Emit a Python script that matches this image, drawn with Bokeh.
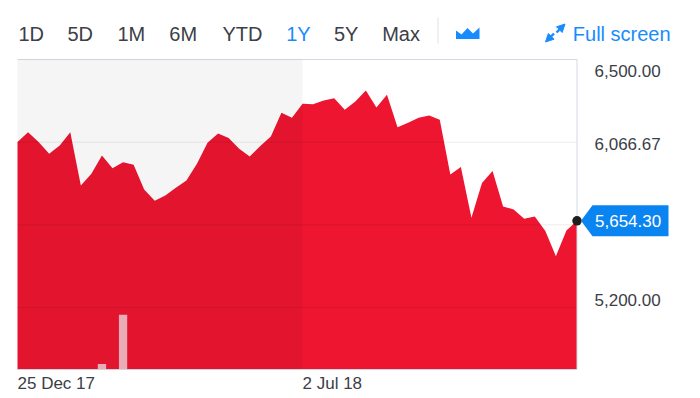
import pandas as pd
from datetime import datetime
from bokeh.plotting import figure
from bokeh.models import (Range1d, BoxAnnotation, Label, PolyAnnotation,
                          Arrow, NormalHead, ColumnDataSource)
from bokeh.embed import file_html
from bokeh.resources import INLINE

# ---------------- data ----------------
dates = list(pd.date_range("2017-12-25", periods=54, freq="7D"))
close = [6067, 6119, 6067, 6006, 6049, 6119, 5840, 5901, 5997, 5930,
         5962, 5948, 5819, 5760, 5787, 5828, 5866, 5953, 6064, 6112,
         6088, 6032, 5992, 6046, 6097, 6221, 6195, 6268, 6266, 6285,
         6297, 6236, 6280, 6338, 6249, 6315, 6145, 6168, 6195, 6207,
         6184, 5897, 5936, 5670, 5852, 5915, 5730, 5714, 5665, 5677,
         5601, 5469, 5604, 5654.30]
volume = [0, 0, 0, 0, 0, 0, 0, 0, 1.8, 0,
          17.7, 0, 0, 0, 0, 0, 0, 0, 0, 0,
          0, 0, 0, 0, 0, 0, 0, 0, 0, 0,
          0, 0, 0, 0, 0, 0, 0, 0, 0, 0,
          0, 0, 0, 0, 0, 0, 0, 0, 0, 0,
          0, 0, 0, 0]
y_ticks = [5200.00, 5633.33, 6066.67]
y_label_values = [6500.00, 6066.67, 5200.00]
y_label_texts = ["6,500.00", "6,066.67", "5,200.00"]
x_tick_dates = [datetime(2017, 12, 25), datetime(2018, 7, 2)]
x_tick_texts = ["25 Dec 17", "2 Jul 18"]
last_price_text = "5,654.30"
buttons = ["1D", "5D", "1M", "6M", "YTD", "1Y", "5Y", "Max"]
active_button = "1Y"

# ---------------- style / layout ----------------
RED = "#ED1530"
BLUE = "#188CFF"
TIP_BLUE = "#0A84F0"
TXT = "#3B4047"
BORDER = "#D3D8E2"
FONT = "Liberation Sans"
W, H = 700, 398
CH_L, CH_R, CH_T, CH_B = 17, 576.5, 59, 369   # chart box in pixels
Y_MIN, Y_MAX = 4875, 6500                      # values at chart bottom / top

t0 = pd.Timestamp(dates[0]).value / 1e6
t1 = pd.Timestamp(dates[-1]).value / 1e6
kx = (t1 - t0) / (CH_R - CH_L)
ky = (Y_MAX - Y_MIN) / (CH_B - CH_T)
x_range = Range1d(t0 - CH_L * kx, t1 + (W - CH_R) * kx)
y_range = Range1d(Y_MIN - (H - CH_B) * ky, Y_MAX + CH_T * ky)

def sx(px):  # pixel x -> screen units
    return px

def sy(py):  # pixel y (from top) -> screen units (from bottom)
    return H - py

src = ColumnDataSource(dict(date=dates, close=close, volume=volume))

p = figure(width=W, height=H, x_axis_type="datetime",
           x_axis_location=None, y_axis_location=None,
           x_range=x_range, y_range=y_range,
           toolbar_location=None, output_backend="svg", min_border=0)
vol_k = 100 / (CH_B - CH_T)
p.extra_y_ranges = {"vol": Range1d(-(H - CH_B) * vol_k, CH_B * vol_k)}
p.background_fill_color = "white"
p.border_fill_color = "white"
p.outline_line_color = None
p.xgrid.visible = False
p.ygrid.visible = False

p.varea(x="date", y1=Y_MIN, y2="close", source=src, fill_color=RED)
p.vbar(x="date", bottom=0, top="volume", width=5.5 * 24 * 3600 * 1000, source=src,
       y_range_name="vol", fill_color="#F4B4BE", line_color=None)

# shaded first half
p.add_layout(BoxAnnotation(left=dates[0], right=x_tick_dates[1], bottom=Y_MIN, top=Y_MAX,
                           fill_color="black", fill_alpha=0.04, line_color=None))

# grid lines and frame lines
p.segment(x0=[dates[0]] * len(y_ticks), x1=[dates[-1]] * len(y_ticks), y0=y_ticks, y1=y_ticks,
          line_color="black", line_alpha=0.08, line_width=1)
p.segment(x0=[dates[0], dates[-1], dates[0]], x1=[dates[-1], dates[-1], dates[-1]],
          y0=[Y_MAX, Y_MIN, Y_MIN], y1=[Y_MAX, Y_MAX, Y_MIN],
          line_color=BORDER, line_width=1)

# y labels
for v, t, off in zip(y_label_values, y_label_texts, [-11.4, -1.6, 8.0]):
    p.add_layout(Label(x=dates[-1], y=v, x_offset=17.5, y_offset=off, text=t,
                       text_font=FONT, text_font_size="17px", text_color=TXT,
                       text_align="left", text_baseline="middle"))

# x labels
for d, t in zip(x_tick_dates, x_tick_texts):
    p.add_layout(Label(x=d, y=sy(383), y_units="screen", text=t,
                       text_font=FONT, text_font_size="17px", text_color=TXT,
                       text_align="left", text_baseline="middle"))

# last price marker and tag
tip_y = sy(CH_B) + (close[-1] - Y_MIN) / ky
p.add_layout(PolyAnnotation(xs=[CH_R + 4, CH_R + 15.5, 668, 668, CH_R + 15.5],
                            ys=[tip_y, tip_y + 15.5, tip_y + 15.5, tip_y - 15.5, tip_y - 15.5],
                            xs_units="screen", ys_units="screen",
                            fill_color=TIP_BLUE, fill_alpha=1, line_color=None))
p.add_layout(Label(x=dates[-1], y=close[-1], x_offset=18, text=last_price_text,
                   text_font=FONT, text_font_size="17px", text_color="white",
                   text_align="left", text_baseline="middle"))
p.scatter(x=dates[-1:], y=close[-1:], size=9.5, fill_color="#1E1E1E", line_color=None)

# header buttons
button_x = [17.9, 67.0, 117.0, 168.8, 221.9, 285.7, 333.5, 381.7]
for b, bx in zip(buttons, button_x):
    p.add_layout(Label(x=sx(bx), y=sy(33.4), x_units="screen", y_units="screen", text=b,
                       text_font=FONT, text_font_size="20px",
                       text_color=BLUE if b == active_button else TXT,
                       text_align="left", text_baseline="middle"))
# separator
p.add_layout(Arrow(x_start=sx(437.5), y_start=sy(17), x_end=sx(437.5), y_end=sy(43),
                   start_units="screen", end_units="screen", end=None,
                   line_color="#DDE1E6", line_width=1))
# area chart icon
icon_px = [(455.5, 38.5), (455.5, 30), (461, 34), (467, 27.5), (472.5, 33), (479, 27), (479, 38.5)]
p.add_layout(PolyAnnotation(xs=[sx(a) for a, _ in icon_px], ys=[sy(b) for _, b in icon_px],
                            xs_units="screen", ys_units="screen",
                            fill_color=BLUE, fill_alpha=1, line_color=None))
# full screen icon
for (x0, y0, x1, y1) in [(556, 32, 564.5, 23.5), (553.5, 33, 545, 41.5)]:
    p.add_layout(Arrow(x_start=sx(x0), y_start=sy(y0), x_end=sx(x1), y_end=sy(y1),
                       start_units="screen", end_units="screen",
                       end=NormalHead(size=8, fill_color=BLUE, line_color=BLUE),
                       line_color=BLUE, line_width=2.4))
p.add_layout(Label(x=sx(572.3), y=sy(33.4), x_units="screen", y_units="screen",
                   text="Full screen", text_font=FONT, text_font_size="20px",
                   text_color=BLUE, text_align="left", text_baseline="middle"))

open("out.html", "w").write(file_html(p, INLINE))
